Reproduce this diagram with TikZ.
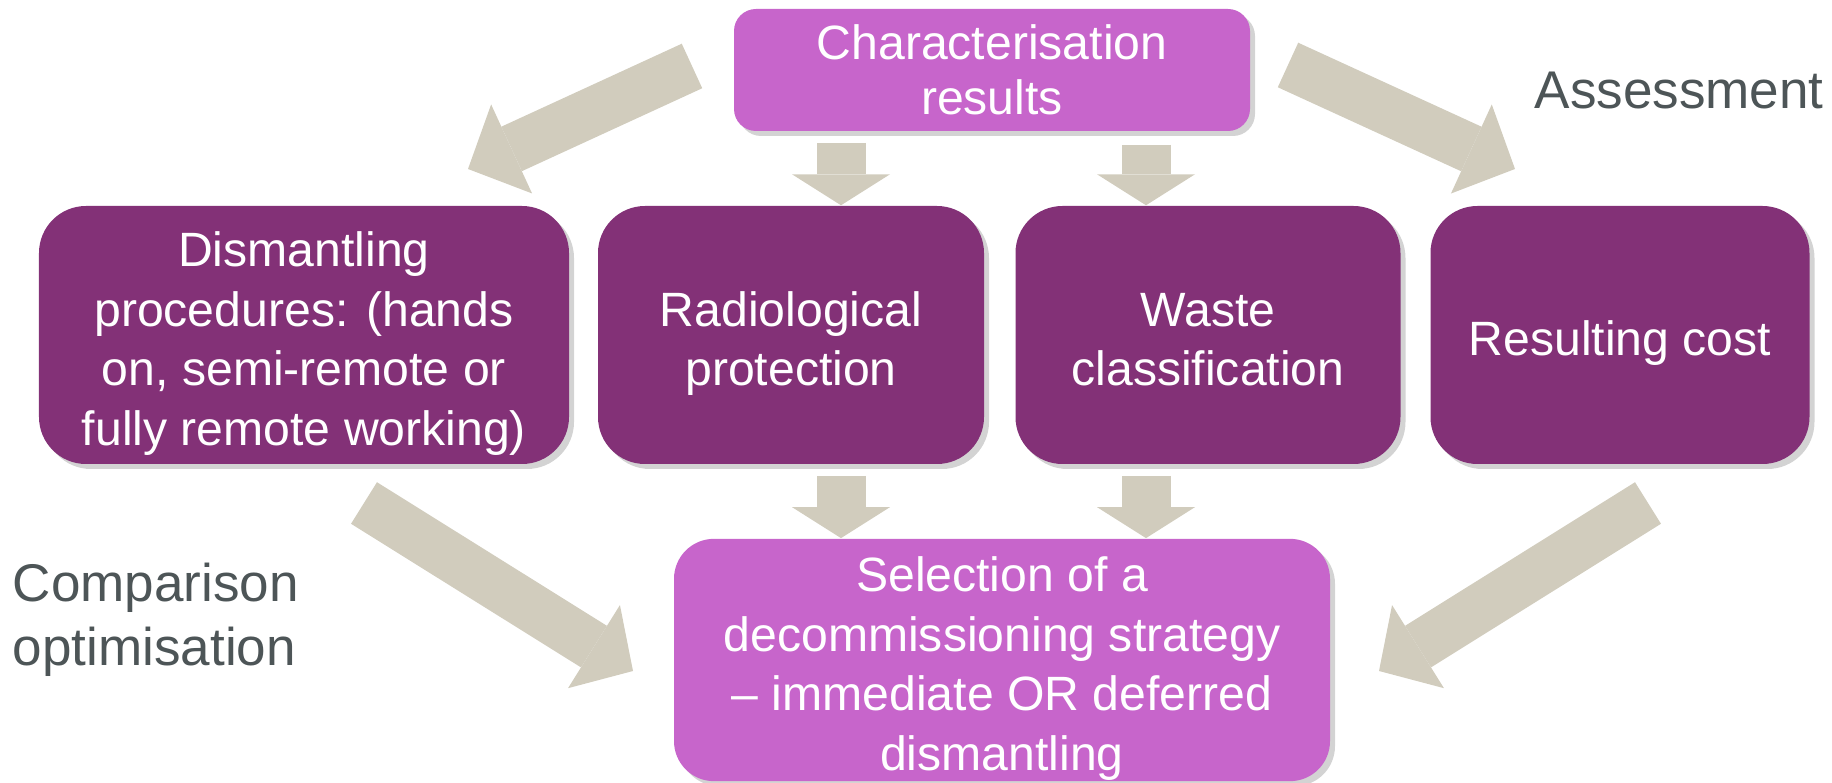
\documentclass[tikz,border=0pt]{standalone}
\usepackage{fontspec}
\setmainfont{Liberation Sans}
\usepackage{tikz}
\usetikzlibrary{arrows.meta}
\usetikzlibrary{shadows}
\usetikzlibrary{positioning}
\definecolor{plum}{HTML}{833177}
\definecolor{orchid}{HTML}{C765CB}
\definecolor{sand}{HTML}{D1CCBD}
\definecolor{slate}{HTML}{4D5557}
% full line boxes on first and last line, as the slide has them
\newcommand\lift{\rule{0pt}{1.09em}}
\newcommand\sink{\rule[-0.22em]{0pt}{0pt}}
\tikzset{
	% shadow is a plain offset copy, no blur
    stage/.style={draw=none, fill=plum, text=white, rounded corners=0.47cm, align=center,
        minimum height=2.58cm, inner ysep=0pt, font=\fontsize{13.7}{17.0}\selectfont,
        drop shadow={shadow xshift=0.05cm, shadow yshift=-0.05cm, opacity=0.35}},
    outcome/.style={stage, fill=orchid},
    sidetext/.style={text=slate, inner sep=0pt, font=\fontsize{15.1}{18.2}\selectfont},
    blockarrow/.style={draw=sand, line width=0.49cm,
        -{Triangle[width=0.98cm, length=#1, line width=0pt]}},
    blockarrow/.default=0.31cm
}
\begin{document}
\begin{tikzpicture}
	\useasboundingbox (0,0) rectangle (18.32,-7.83);
	\node[outcome, minimum width=5.16cm, minimum height=1.22cm, rounded corners=0.22cm,
		font=\fontsize{13.7}{15.6}\selectfont] (char) at (9.92,-0.70) {Characterisation\\results};
	\node[stage, minimum width=5.30cm] (dism) at (3.04,-3.35) {\lift Dismantling\\procedures: (hands\\on, semi-remote or\\fully remote working)\sink};
	\node[stage, minimum width=3.86cm] (radio) at (7.91,-3.35) {\lift Radiological\\protection\sink};
	\node[stage, minimum width=3.85cm] (waste) at (12.08,-3.35) {\lift Waste\\classification\sink};
	\node[stage, minimum width=3.79cm] (cost) at (16.20,-3.35) {\lift Resulting cost\sink};
	\node[outcome, minimum width=6.56cm, minimum height=2.42cm, rounded corners=0.40cm,
		font=\fontsize{13.7}{17.0}\selectfont] (select) at (10.02,-6.60) {\lift Selection of a\\decommissioning strategy\\– immediate OR deferred\\dismantling\sink};
	\node[sidetext, anchor=base west] (assess) at (15.34,-1.09) {Assessment};
	\node[sidetext, anchor=west, align=left] (compare) at (0.12,-6.2) {Comparison\\optimisation};
	\coordinate (d1) at (8.41,-1.43);
	\coordinate (d2) at (11.46,-1.45);
	\coordinate (d3) at (8.41,-4.76);
	\coordinate (d4) at (11.46,-4.76);
	\draw[blockarrow] (d1) -- (d1 |- radio.north);
	\draw[blockarrow] (d2) -- (d2 |- waste.north);
	\draw[blockarrow] (d3) -- (d3 |- select.north);
	\draw[blockarrow] (d4) -- (d4 |- select.north);
	\coordinate (tl) at (6.92,-0.66);
	\coordinate (tlh) at (4.68,-1.69);
	\coordinate (tr) at (12.88,-0.65);
	\coordinate (trh) at (15.15,-1.69);
	\coordinate (bl) at (3.64,-5.03);
	\coordinate (blh) at (6.33,-6.71);
	\coordinate (br) at (16.48,-5.03);
	\coordinate (brh) at (13.79,-6.71);
	\draw[blockarrow=0.48cm] (tl) -- (tlh);
	\draw[blockarrow=0.48cm] (tr) -- (trh);
	\draw[blockarrow=0.46cm] (bl) -- (blh);
	\draw[blockarrow=0.46cm] (br) -- (brh);
\end{tikzpicture}
\end{document}
